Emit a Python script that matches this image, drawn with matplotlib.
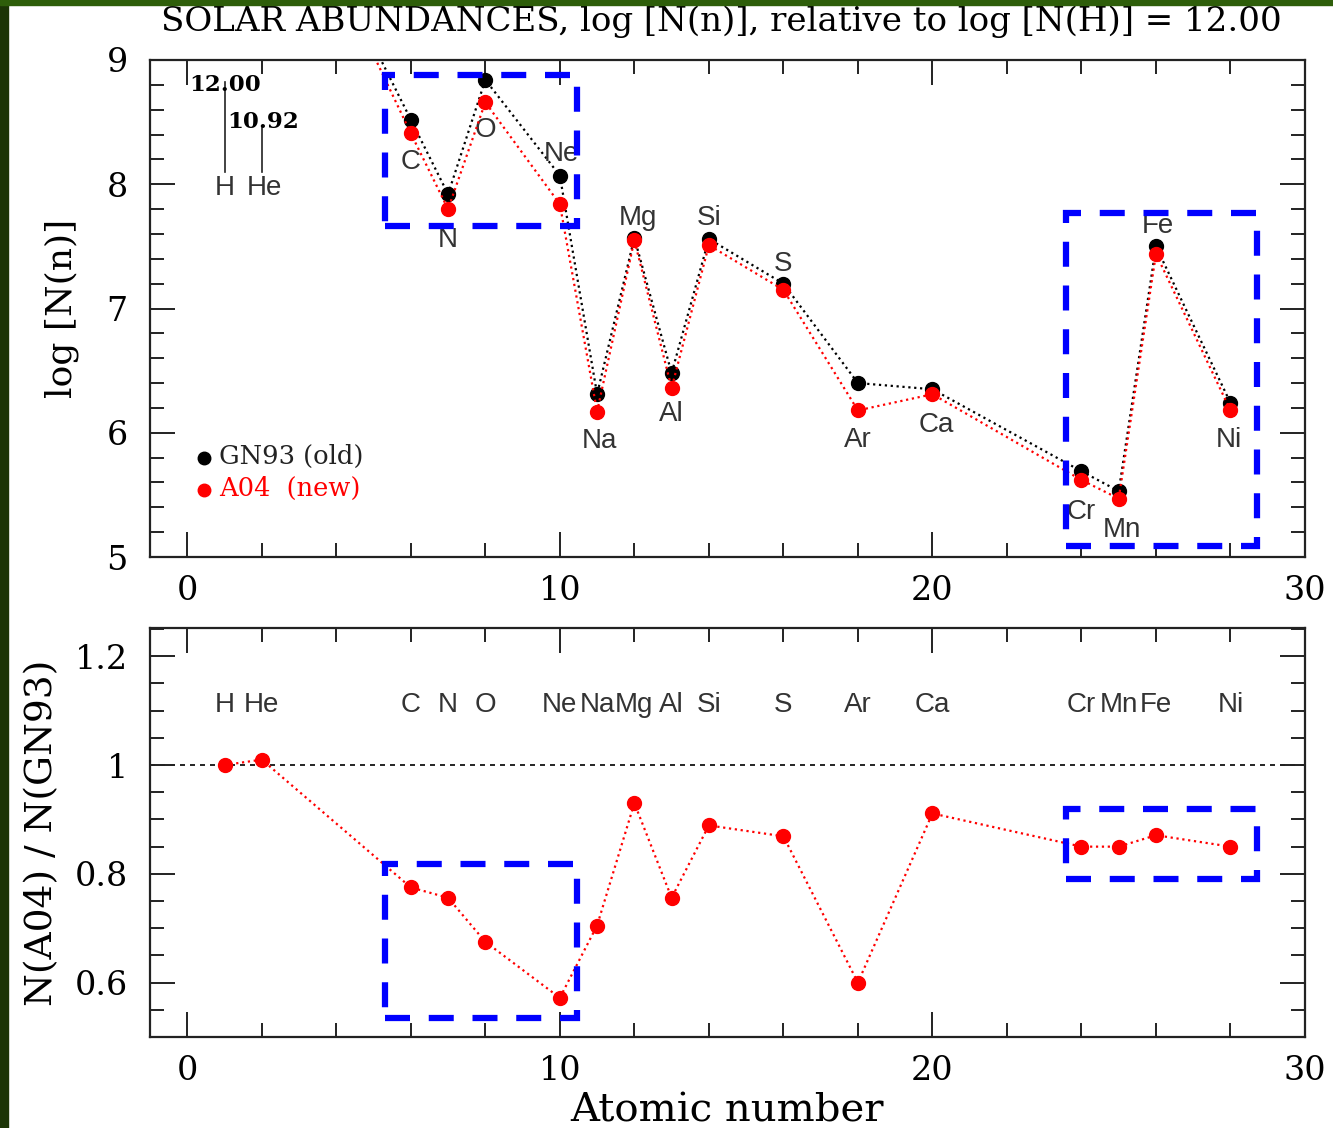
import numpy as np
import matplotlib.pyplot as plt
from matplotlib.patches import Rectangle
from matplotlib.ticker import MultipleLocator, FixedLocator, FixedFormatter

# Daten
elements = ["H", "He", "C", "N", "O", "Ne", "Na", "Mg", "Al", "Si", "S", "Ar", "Ca", "Cr", "Mn", "Fe", "Ni"]
z_num    = [1, 2, 6, 7, 8, 10, 11, 12, 13, 14, 16, 18, 20, 24, 25, 26, 28]
gn93     = [12.00, 10.92, 8.52, 7.92, 8.84, 8.07, 6.31, 7.57, 6.48, 7.56, 7.20, 6.40, 6.35, 5.69, 5.53, 7.50, 6.24]
a04      = [12.00, 10.93, 8.41, 7.80, 8.66, 7.84, 6.17, 7.55, 6.36, 7.51, 7.15, 6.18, 6.31, 5.62, 5.47, 7.44, 6.18]
ratio    = [1.00, 1.01, 0.775, 0.756, 0.675, 0.572, 0.705, 0.93, 0.756, 0.889, 0.869, 0.60, 0.911, 0.85, 0.85, 0.871, 0.85]

# Label-Positionen im oberen Panel (x, y)
top_labels = {
    "C": (6, 8.18), "N": (7, 7.55), "O": (8, 8.44), "Ne": (10.05, 8.24),
    "Na": (11.05, 5.93), "Mg": (12.1, 7.73), "Al": (13.0, 6.15), "Si": (14.0, 7.73),
    "S": (16.0, 7.36), "Ar": (18.0, 5.94), "Ca": (20.1, 6.06), "Cr": (24.0, 5.36),
    "Mn": (25.1, 5.22), "Fe": (26.05, 7.66), "Ni": (27.95, 5.94),
}

SERIF = "DejaVu Serif"
SANS  = "Liberation Sans"
LBL_C = "#333333"
EL_FS = 20

fig = plt.figure(figsize=(13.33, 11.28), dpi=100)
fig.patch.set_facecolor("white")

# gruener Rand links/oben
fig.patches.append(Rectangle((0, 0), 8 / 1333, 1, transform=fig.transFigure, color="#1c3506", zorder=10))
fig.patches.append(Rectangle((0, 1 - 5 / 1128), 1, 5 / 1128, transform=fig.transFigure, color="#2e5e0a", zorder=10))

ax1 = fig.add_axes([150 / 1333, 1 - 557 / 1128, 1155 / 1333, 497 / 1128])
ax2 = fig.add_axes([150 / 1333, 1 - 1037 / 1128, 1155 / 1333, 409 / 1128])


def style_axis(ax):
    for s in ax.spines.values():
        s.set_linewidth(1.6)
        s.set_color("#222222")
    ax.xaxis.set_major_locator(MultipleLocator(10))
    ax.xaxis.set_minor_locator(MultipleLocator(2))
    ax.tick_params(which="both", direction="in", top=True, right=True, width=1.4, color="#222222")
    ax.tick_params(which="major", length=18, labelsize=24, pad=13)
    ax.tick_params(which="minor", length=10)
    ax.tick_params(axis="y", which="major", pad=16)
    for lab in ax.get_xticklabels() + ax.get_yticklabels():
        lab.set_fontfamily(SERIF)
    ax.set_xlim(-1, 30)


# ---------- oberes Panel ----------
ax1.plot(z_num, gn93, ":", color="black", lw=1.6, marker="o", ms=10, zorder=3)
ax1.plot(z_num, a04, ":", color="red", lw=1.6, marker="o", ms=10, zorder=4)
ax1.set_ylim(5, 9)
ax1.yaxis.set_major_locator(MultipleLocator(1))
ax1.yaxis.set_minor_locator(MultipleLocator(0.2))
style_axis(ax1)

for el, (x, y) in top_labels.items():
    ax1.text(x, y, el, ha="center", va="center", fontsize=EL_FS, family=SANS, color=LBL_C)

# H / He Markierung
ax1.plot([1, 1], [8.1, 8.82], color="#222222", lw=1.2)
ax1.plot([2, 2], [8.1, 8.45], color="#222222", lw=1.2)
ax1.text(0.05, 8.8, "12.00", fontsize=16.5, family=SERIF, fontweight="bold", va="center")
ax1.text(1.08, 8.5, "10.92", fontsize=16.5, family=SERIF, fontweight="bold", va="center")
ax1.text(1.0, 7.97, "H", ha="center", va="center", fontsize=EL_FS, family=SANS, color=LBL_C)
ax1.text(2.08, 7.97, "He", ha="center", va="center", fontsize=EL_FS, family=SANS, color=LBL_C)

# Legende
ax1.plot([0.46], [5.80], "o", color="black", ms=9)
ax1.plot([0.46], [5.54], "o", color="red", ms=9)
ax1.text(0.86, 5.81, "GN93 (old)", fontsize=18.5, family=SERIF, color="#222222", va="center")
ax1.text(0.86, 5.55, "A04  (new)", fontsize=18.5, family=SERIF, color="red", va="center")

ax1.set_ylabel("log [N(n)]", fontsize=26, family=SERIF, labelpad=20)
fig.text(0.5 * (152 + 1290) / 1333, 1 - 22 / 1128,
         "SOLAR ABUNDANCES, log [N(n)], relative to log [N(H)] = 12.00",
         ha="center", va="center", fontsize=24.5, family=SERIF)

# blaue Kaesten
box_kw = dict(fill=False, edgecolor="blue", lw=4.5, linestyle=(0, (4, 3)), zorder=5, clip_on=False)
ax1.add_patch(Rectangle((5.32, 7.66), 10.46 - 5.32, 8.88 - 7.66, **box_kw))
ax1.add_patch(Rectangle((23.58, 5.09), 28.71 - 23.58, 7.77 - 5.09, **box_kw))

# ---------- unteres Panel ----------
ax2.axhline(1.0, color="black", lw=1.2, ls=(0, (3, 3)), zorder=1)
ax2.plot(z_num, ratio, ":", color="red", lw=1.6, marker="o", ms=10, zorder=4)
ax2.set_ylim(0.5, 1.252)
ax2.yaxis.set_major_locator(FixedLocator([0.6, 0.8, 1.0, 1.2]))
ax2.yaxis.set_major_formatter(FixedFormatter(["0.6", "0.8", "1", "1.2"]))
ax2.yaxis.set_minor_locator(MultipleLocator(0.05))
style_axis(ax2)

for el, x in zip(elements, z_num):
    ax2.text(x, 1.11, el, ha="center", va="center", fontsize=EL_FS, family=SANS, color=LBL_C)

ax2.add_patch(Rectangle((5.32, 0.535), 10.46 - 5.32, 0.819 - 0.535, **box_kw))
ax2.add_patch(Rectangle((23.58, 0.79), 28.71 - 23.58, 0.919 - 0.79, **box_kw))

ax2.set_ylabel("N(A04) / N(GN93)", fontsize=27, family=SERIF, labelpad=10)
ax2.set_xlabel("Atomic number", fontsize=29, family=SERIF, labelpad=4)

fig.savefig("out.png", dpi=100)
